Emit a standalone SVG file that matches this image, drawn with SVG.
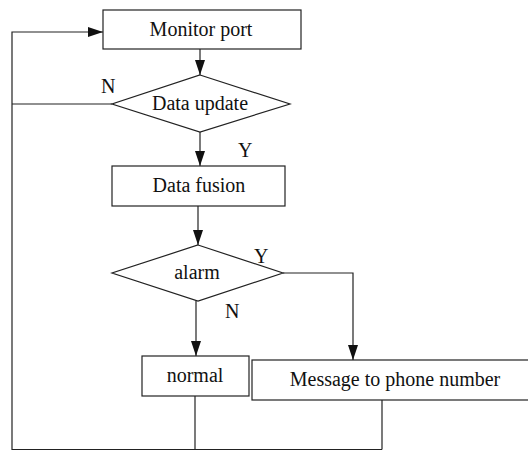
<svg xmlns="http://www.w3.org/2000/svg" width="528" height="451" viewBox="0 0 528 451">
<style>
.box{fill:#fff;stroke:#222;stroke-width:1.2}
.ln{fill:none;stroke:#222;stroke-width:1.2}
.arr{fill:none;stroke:#222;stroke-width:1.2;marker-end:url(#ah)}
.t{font-family:'Liberation Serif','Times New Roman','DejaVu Serif',serif;font-size:20px;fill:#111}
.c{text-anchor:middle}
</style>
<defs>
<marker id="ah" markerUnits="userSpaceOnUse" markerWidth="16" markerHeight="11" refX="15" refY="5" orient="auto">
<path d="M0,0 L15,5 L0,10 z" fill="#111"/>
</marker>
</defs>
<rect width="528" height="451" fill="#fff"/>
<g id="connectors">
<path class="arr" d="M200,49 V75"/>
<path class="arr" d="M200,132 V166"/>
<path class="arr" d="M198,206 V245"/>
<path class="arr" d="M196,301 V356"/>
<path class="arr" d="M283,273 H353 V360"/>
<path class="ln" d="M112,104 H12"/>
<path class="ln" d="M195,396 V449.5"/>
<path class="ln" d="M382,400 V449.5"/>
<path class="arr" d="M382,449.5 H12 V32 H103"/>
<text class="t" x="101" y="93">N</text>
<text class="t" x="238" y="157">Y</text>
<text class="t" x="254" y="263">Y</text>
<text class="t" x="225" y="318">N</text>
</g>
<g id="monitor"><rect class="box" x="103" y="10" width="198" height="39"/><text class="t c" x="201" y="36">Monitor port</text></g>
<g id="update"><path class="box" d="M200,75 L290,104 L200,132 L112,104 z"/><text class="t c" x="200" y="110">Data update</text></g>
<g id="fusion"><rect class="box" x="112" y="166" width="173" height="40"/><text class="t c" x="199" y="192">Data fusion</text></g>
<g id="alarm"><path class="box" d="M198,245 L283,273 L198,301 L112,273 z"/><text class="t c" x="197" y="279">alarm</text></g>
<g id="normal"><rect class="box" x="142" y="356" width="107" height="40"/><text class="t c" x="195" y="382">normal</text></g>
<g id="message"><rect class="box" x="252" y="360" width="278" height="40"/><text class="t c" x="395" y="386">Message to phone number</text></g>
</svg>
